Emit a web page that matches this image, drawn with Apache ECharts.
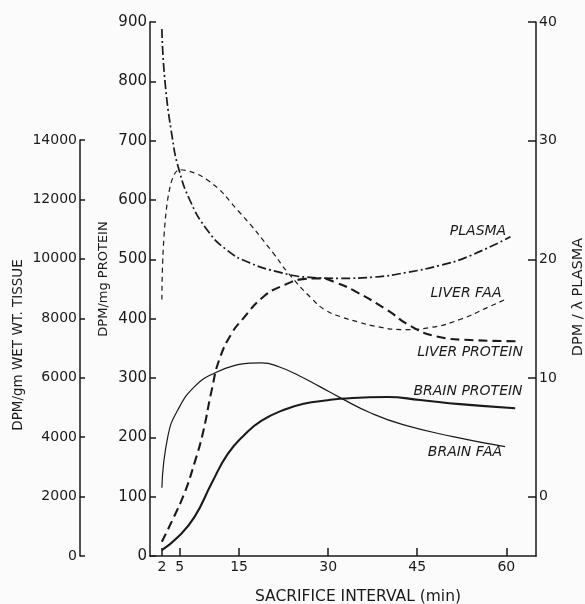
<!DOCTYPE html>
<html>
<head>
<meta charset="utf-8">
<script src="https://cdn.jsdelivr.net/npm/echarts@6/dist/echarts.min.js"></script>
<style>
html,body{margin:0;padding:0;background:#fbfbfb;}
#chart{width:585px;height:604px;}
</style>
</head>
<body>
<div id="chart"></div>
<script>
// x-axis ticks (min)
const xTicks = [2, 5, 15, 30, 45, 60];
const rightTicks = [0, 10, 20, 30, 40];

// PLASMA  (DPM / λ plasma, right axis)
const plasmaTime  = [2, 2.5, 3.8, 4.8, 6.7, 9.6, 12.9, 16.8, 21.9, 26.4, 32.0, 37.6, 43.3, 48.9, 53.4, 60.7];
const plasmaValue = [39.4, 35.1, 30.1, 27.7, 25.0, 22.5, 20.8, 19.7, 18.9, 18.5, 18.4, 18.5, 18.9, 19.5, 20.2, 21.9];

// LIVER FAA (DPM/gm wet wt. tissue, outer left axis)
const liverFaaTime  = [2, 5, 9.55, 15.1, 20.7, 23.2, 27.4, 29.5, 32.0, 35.0, 38.2, 42.6, 47.2, 52.2, 56.8, 59.8];
const liverFaaValue = [8630, 13000, 12670, 11560, 10210, 9540, 8630, 8280, 8060, 7880, 7720, 7620, 7690, 7960, 8360, 8630];

// LIVER PROTEIN (DPM/mg protein, inner left axis)
const liverProtTime  = [2, 3.8, 5.8, 7.5, 8.9, 10.4, 11.7, 13.8, 15.5, 19.1, 22.7, 26.1, 28.6, 31.5, 34.2, 39.9, 43.8, 48.3, 53.9, 61.8];
const liverProtValue = [24, 61, 106, 157, 207, 280, 332, 376, 398, 437, 457, 467, 468, 460, 448, 415, 388, 370, 364, 362];

// BRAIN FAA (DPM/gm wet wt. tissue, outer left axis)
const brainFaaTime  = [2, 3.0, 4.7, 7.5, 10.9, 14.8, 16.8, 18.8, 21.8, 25.2, 28.6, 32.0, 37.1, 42.6, 51.0, 59.8];
const brainFaaValue = [2300, 4020, 4920, 5700, 6160, 6440, 6490, 6500, 6360, 6060, 5700, 5330, 4820, 4420, 4020, 3680];

// BRAIN PROTEIN (DPM/mg protein, inner left axis)
const brainProtTime  = [2, 4.7, 7.5, 10.4, 13.1, 16.0, 18.8, 22.7, 26.1, 29.5, 32.0, 39.9, 45.5, 52.2, 61.5];
const brainProtValue = [10, 32, 66, 123, 172, 205, 228, 247, 257, 262, 265, 268, 263, 256, 249];

const INK = '#1a1a1a';
const FONT = '"DejaVu Sans", sans-serif';
const pair = (t, v) => t.map((x, i) => [x, v[i]]);

const chart = echarts.init(document.getElementById('chart'), null, {renderer: 'canvas'});

const baseLine = (name, xi, yi, data, width, type) => ({
  type: 'line', name, xAxisIndex: xi, yAxisIndex: yi, data,
  smooth: 0.5, symbol: 'none', showSymbol: false, clip: false,
  lineStyle: {color: INK, width, type},
  emphasis: {disabled: true}, silent: true, animation: false
});

const txt = (text, x, y, font, rot) => ({
  type: 'text', x, y, rotation: rot || 0,
  style: {text, font, fill: INK, align: 'center', verticalAlign: 'middle', textAlign: 'center', textVerticalAlign: 'middle'}
});

const option = {
  backgroundColor: '#fbfbfb',
  animation: false,
  grid: [
    {left: 150, right: 49, top: 22, bottom: 48},
    {left: 150, right: 49, top: 140, bottom: 48}
  ],
  xAxis: [
    {
      gridIndex: 0, type: 'value', min: 0, max: 65,
      axisLine: {show: true, onZero: false, lineStyle: {color: INK, width: 1.5}},
      axisTick: {show: true, inside: true, length: 8, customValues: xTicks, lineStyle: {color: INK, width: 1.5}},
      axisLabel: {customValues: xTicks, color: INK, fontSize: 14, fontFamily: FONT, margin: 4},
      splitLine: {show: false}
    },
    {gridIndex: 1, type: 'value', min: 0, max: 65, show: false}
  ],
  yAxis: [
    {
      gridIndex: 0, type: 'value', position: 'left', min: 0, max: 900, interval: 100,
      axisLine: {show: true, onZero: false, lineStyle: {color: INK, width: 1.5}},
      axisTick: {show: true, inside: true, length: 6, lineStyle: {color: INK, width: 1.5}},
      axisLabel: {color: INK, fontSize: 15, fontFamily: FONT, margin: 3},
      splitLine: {show: false}
    },
    {
      gridIndex: 0, type: 'value', position: 'right', min: -5, max: 40,
      axisLine: {show: true, onZero: false, lineStyle: {color: INK, width: 1.5}},
      axisTick: {show: true, inside: true, length: 8, customValues: rightTicks, lineStyle: {color: INK, width: 1.5}},
      axisLabel: {customValues: rightTicks, color: INK, fontSize: 14, fontFamily: FONT, margin: 3},
      splitLine: {show: false}
    },
    {
      gridIndex: 1, type: 'value', position: 'left', offset: 70, min: 0, max: 14000, interval: 2000,
      axisLine: {show: true, onZero: false, lineStyle: {color: INK, width: 1.5}},
      axisTick: {show: true, inside: true, length: 5, lineStyle: {color: INK, width: 1.5}},
      axisLabel: {color: INK, fontSize: 14, fontFamily: FONT, margin: 3, formatter: v => String(v)},
      splitLine: {show: false}
    }
  ],
  series: [
    baseLine('PLASMA', 0, 1, pair(plasmaTime, plasmaValue), 1.7, [9, 3, 2, 3]),
    baseLine('LIVER FAA', 1, 2, pair(liverFaaTime, liverFaaValue), 1.2, [5, 4]),
    baseLine('LIVER PROTEIN', 0, 0, pair(liverProtTime, liverProtValue), 2.1, [9, 5]),
    baseLine('BRAIN FAA', 1, 2, pair(brainFaaTime, brainFaaValue), 1.2, 'solid'),
    baseLine('BRAIN PROTEIN', 0, 0, pair(brainProtTime, brainProtValue), 2.1, 'solid')
  ],
  graphic: [
    txt('DPM/gm WET WT. TISSUE', 18, 345, '13.5px ' + FONT, Math.PI / 2),
    txt('DPM/mg PROTEIN', 104, 279, '13px ' + FONT, Math.PI / 2),
    txt('DPM / λ PLASMA', 578, 297, '14.5px ' + FONT, Math.PI / 2),
    txt('SACRIFICE INTERVAL (min)', 358, 597, '15.5px ' + FONT),
    txt('PLASMA', 478, 231, 'italic 14px ' + FONT),
    txt('LIVER FAA', 466, 293, 'italic 14px ' + FONT),
    txt('LIVER PROTEIN', 470, 352, 'italic 14px ' + FONT),
    txt('BRAIN PROTEIN', 468, 391, 'italic 14px ' + FONT),
    txt('BRAIN FAA', 465, 452, 'italic 14px ' + FONT)
  ]
};
chart.setOption(option);
</script>
</body>
</html>
